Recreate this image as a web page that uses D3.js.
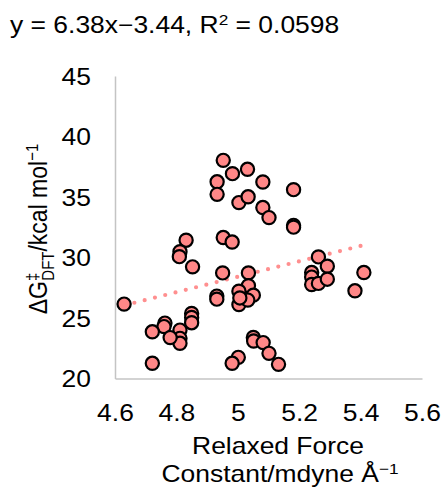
<!DOCTYPE html>
<html>
<head>
<meta charset="utf-8">
<script src="https://cdn.jsdelivr.net/npm/d3@7"></script>
<style>
  html, body { margin: 0; padding: 0; background: #fff; }
  svg { display: block; font-family: "Liberation Sans", Arial, sans-serif; }
</style>
</head>
<body>
<svg id="chart" width="445" height="494"></svg>
<script>
// Data
const forceConst = [
  4.951, 4.981, 5.030, 4.931, 4.931, 5.080, 5.180, 5.002, 5.032, 5.080,
  5.100, 5.180, 5.180, 4.951, 4.980, 4.830, 4.810, 4.808, 4.851, 4.628,
  4.949, 4.930, 4.930, 5.033, 5.033, 5.002, 5.049, 5.002, 5.031, 5.005,
  4.848, 4.848, 4.848, 4.761, 4.758, 4.720, 4.810, 4.810, 4.810, 4.778,
  4.720, 5.049, 5.050, 5.081, 5.100, 5.131, 5.000, 4.980, 5.261, 5.290,
  5.239, 5.239, 5.239, 5.261, 5.290, 5.409, 5.380
];
const dgDft = [
  38.07, 36.97, 37.33, 36.30, 35.26, 36.28, 35.65, 34.58, 35.06, 34.17,
  33.34, 32.70, 32.55, 31.69, 31.32, 31.47, 30.52, 30.11, 29.27, 26.19,
  28.77, 26.85, 26.60, 28.77, 27.71, 27.26, 26.93, 26.15, 26.52, 26.70,
  25.42, 25.09, 24.65, 24.62, 24.33, 23.90, 24.04, 23.36, 22.95, 23.42,
  21.30, 23.44, 23.14, 23.01, 22.12, 21.21, 21.79, 21.30, 30.09, 29.32,
  28.80, 28.42, 27.81, 27.90, 28.25, 28.80, 27.29
];
const xTicks = [4.6, 4.8, 5.0, 5.2, 5.4, 5.6];
const yTicks = [20, 25, 30, 35, 40, 45];
const trendSlope = 6.38;
const trendIntercept = -3.44;

const points = forceConst.map((v, i) => ({ x: v, y: dgDft[i] }));

const svg = d3.select("#chart");
const stretch = 1.15;   // text in the reference is drawn wide
const fontSize = 23;

const x = d3.scaleLinear().domain([4.6, 5.6]).range([115.5, 422.5]);
const y = d3.scaleLinear().domain([20, 45]).range([379, 76.5]);

// axis lines (no tick marks)
svg.append("line")
  .attr("x1", x(4.6)).attr("x2", x(4.6))
  .attr("y1", y(45)).attr("y2", y(20))
  .attr("stroke", "#c4c4c4").attr("stroke-width", 1.5);
svg.append("line")
  .attr("x1", x(4.6)).attr("x2", x(5.6))
  .attr("y1", y(20)).attr("y2", y(20))
  .attr("stroke", "#c4c4c4").attr("stroke-width", 1.5);

// tick labels
svg.append("g").selectAll("text")
  .data(yTicks)
  .join("text")
  .attr("transform", d => `translate(91,${y(d)}) scale(${stretch},1)`)
  .attr("dy", "0.36em")
  .attr("text-anchor", "end")
  .attr("font-size", fontSize)
  .attr("fill", "#000")
  .text(d => d);

svg.append("g").selectAll("text")
  .data(xTicks)
  .join("text")
  .attr("transform", d => `translate(${x(d)},421) scale(${stretch},1)`)
  .attr("text-anchor", "middle")
  .attr("font-size", fontSize)
  .attr("fill", "#000")
  .text(d => d3.format("~g")(d));

// trendline over the data range
const xExt = d3.extent(forceConst);
svg.append("line")
  .attr("x1", x(xExt[0])).attr("y1", y(trendSlope * xExt[0] + trendIntercept))
  .attr("x2", x(xExt[1])).attr("y2", y(trendSlope * xExt[1] + trendIntercept))
  .attr("stroke", "#ff8f8f")
  .attr("stroke-width", 4.2)
  .attr("stroke-linecap", "round")
  .attr("stroke-dasharray", "0 10.6");

// markers
svg.append("g").selectAll("circle")
  .data(points)
  .join("circle")
  .attr("cx", d => x(d.x))
  .attr("cy", d => y(d.y))
  .attr("r", 6.6)
  .attr("fill", "#ff8787")
  .attr("stroke", "#000")
  .attr("stroke-width", 2.2);

// equation label
const eq = svg.append("text")
  .attr("transform", `translate(10,33) scale(${stretch},1)`)
  .attr("font-size", fontSize)
  .attr("fill", "#000");
eq.append("tspan").text("y = 6.38x\u22123.44, R");
eq.append("tspan").attr("dy", -8).attr("font-size", 15).text("2");
eq.append("tspan").attr("dy", 8).text(" = 0.0598");

// x axis title
svg.append("text")
  .attr("transform", `translate(278,454) scale(${stretch},1)`)
  .attr("text-anchor", "middle")
  .attr("font-size", fontSize)
  .text("Relaxed Force");
const xt2 = svg.append("text")
  .attr("transform", `translate(280,482) scale(${stretch},1)`)
  .attr("text-anchor", "middle")
  .attr("font-size", fontSize);
xt2.append("tspan").text("Constant/mdyne \u00c5");
xt2.append("tspan").attr("dy", -8).attr("font-size", 15).text("\u22121");

// y axis title
const yt = svg.append("g")
  .attr("transform", `translate(47,229) scale(${stretch},1)`)
  .append("text")
  .attr("transform", "rotate(-90)")
  .attr("text-anchor", "middle")
  .attr("font-size", fontSize);
yt.append("tspan").text("\u0394G");
yt.append("tspan").attr("dy", -8).attr("font-size", 15).text("\u2021");
yt.append("tspan").attr("dy", 14).attr("dx", -8).attr("font-size", 15).text("DFT");
yt.append("tspan").attr("dy", -6).text("/kcal mol");
yt.append("tspan").attr("dy", -8).attr("font-size", 15).text("\u22121");
</script>
</body>
</html>
